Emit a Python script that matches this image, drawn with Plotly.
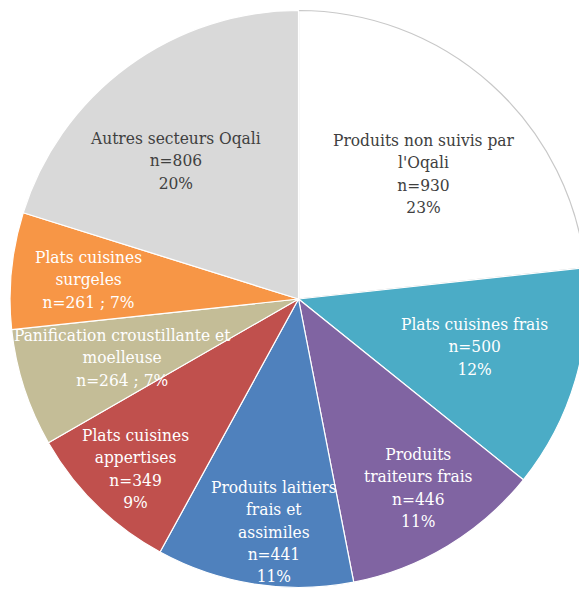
import math
import plotly.graph_objects as go

categories = [
    "Produits non suivis par<br>l'Oqali",
    "Plats cuisines frais",
    "Produits<br>traiteurs frais",
    "Produits laitiers<br>frais et<br>assimiles",
    "Plats cuisines<br>appertises",
    "Panification croustillante et<br>moelleuse",
    "Plats cuisines<br>surgeles",
    "Autres secteurs Oqali",
]
counts = [930, 500, 446, 441, 349, 264, 261, 806]
percents = [23, 12, 11, 11, 9, 7, 7, 20]
combined = [False, False, False, False, False, True, True, False]
colors = ["#FFFFFF", "#4BACC6", "#8064A2", "#4F81BD", "#C0504D", "#C4BD97", "#F79646", "#D9D9D9"]
text_colors = ["#404040", "white", "white", "white", "white", "white", "white", "#404040"]
line_colors = ["#C8C8C8", "white", "white", "white", "white", "white", "white", "white"]
# label placement: distance from centre (fraction of radius) and angular nudge (degrees)
label_radius = [0.613, 0.632, 0.776, 0.812, 0.816, 0.643, 0.731, 0.643]
label_nudge = [3.1, -1.3, -1.3, -2.7, -0.6, -0.5, -0.4, -5.2]

W, H = 579, 582
dom_x = [0.0035, 1.0]
R_px = 288.5
cy_frac = 0.5
dom_y = [cy_frac - R_px / H, cy_frac + R_px / H]
cx_frac = dom_x[0] + R_px / W

texts = []
for c, n, p, comb in zip(categories, counts, percents, combined):
    if comb:
        texts.append(f"{c}<br>n={n} ; {p}%")
    else:
        texts.append(f"{c}<br>n={n}<br>{p}%")

fig = go.Figure(go.Pie(
    values=counts,
    labels=[c.replace("<br>", " ") for c in categories],
    textinfo="none",
    sort=False,
    direction="clockwise",
    rotation=0,
    marker=dict(colors=colors, line=dict(color=line_colors, width=1.2)),
    domain=dict(x=dom_x, y=dom_y),
    showlegend=False,
    hoverinfo="label+value+percent",
))

total = sum(counts)
cum = 0
for t, n, f, d, col in zip(texts, counts, label_radius, label_nudge, text_colors):
    mid = (cum + n / 2) / total * 2 * math.pi + math.radians(d)
    cum += n
    x = cx_frac + f * R_px * math.sin(mid) / W
    y = cy_frac + f * R_px * math.cos(mid) / H
    fig.add_annotation(
        x=x, y=y, xref="paper", yref="paper",
        xanchor="center", yanchor="middle",
        text=t, showarrow=False, align="center",
        font=dict(family="DejaVu Serif Condensed, DejaVu Serif", size=17.2, color=col),
    )

fig.update_layout(
    width=W, height=H,
    margin=dict(l=0, r=0, t=0, b=0),
    paper_bgcolor="white",
    plot_bgcolor="white",
)

fig.write_html("out.html")
